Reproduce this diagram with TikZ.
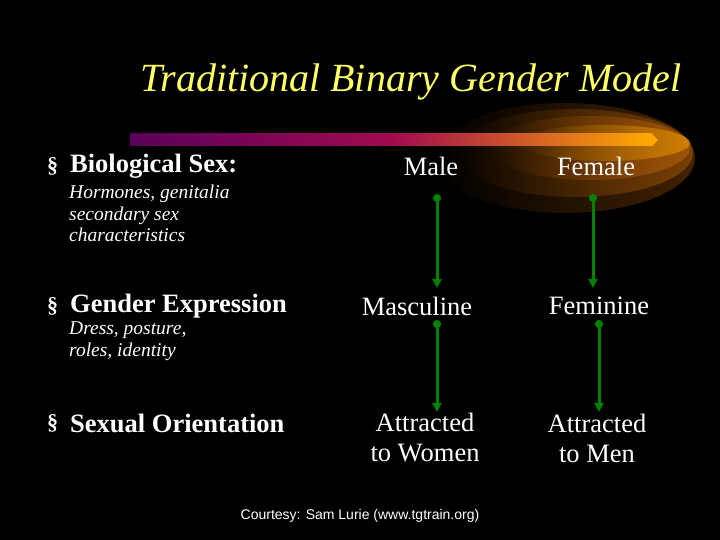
\documentclass[tikz,border=0pt]{standalone}
\usepackage{fontspec}
\setmainfont{Liberation Serif}
\newfontfamily\arialf{Liberation Sans}
\usetikzlibrary{arrows.meta,fadings}
\definecolor{ttl}{RGB}{255,255,102}
\definecolor{grn}{RGB}{0,130,0}
\definecolor{purp}{RGB}{90,0,90}
\definecolor{magn}{RGB}{160,10,80}
\definecolor{orng}{RGB}{255,170,0}
\definecolor{glow}{RGB}{190,100,10}
\begin{document}
\begin{tikzpicture}[x=1pt,y=-1pt,
  lbl/.style={text=white,font=\fontsize{26.5}{30}\selectfont,align=center,inner sep=0},
  head/.style={text=white,font=\bfseries\fontsize{26.5}{30}\selectfont,anchor=west,inner sep=0},
  sub/.style={text=white,font=\itshape\fontsize{19.5}{21.5}\selectfont,anchor=north west,align=left,inner sep=0},
  bul/.style={text=white,font=\bfseries\fontsize{22}{24}\selectfont,anchor=west,inner sep=0},
  arr/.style={grn,line width=3pt,{Circle[length=8pt]}-{Triangle[length=9pt,width=9pt]},shorten <=-4pt}]
\fill[black] (0,0) rectangle (720,540);
\useasboundingbox (0,0) rectangle (720,540);
% glow
\fill[glow,path fading=west,opacity=0.35] (565,158) ellipse [x radius=130,y radius=55];
\fill[glow,path fading=west,opacity=0.45] (575,153) ellipse [x radius=118,y radius=44];
\fill[glow,path fading=west,opacity=0.55] (590,148) ellipse [x radius=100,y radius=32];
\fill[orng,path fading=west,opacity=0.5] (605,143) ellipse [x radius=85,y radius=18];
\shade[left color=purp,right color=orng,middle color=magn,shading angle=90] (130,134) rectangle (652,146);
\fill[orng] (652,134) -- (658,140) -- (652,146) -- cycle;
\node[text=ttl,font=\itshape\fontsize{40}{44}\selectfont,inner sep=0] (title) at (411,82) {Traditional Binary Gender Model};
% rows
\node[bul] (b1) at (47,166) {§};
\node[head] (h1) at (70,166) {Biological Sex:};
\node[sub] (s1) at (69,185) {Hormones, genitalia\\secondary sex\\characteristics};
\node[bul] (b2) at (47,306) {§};
\node[head] (h2) at (70,306) {Gender Expression};
\node[sub] (s2) at (69,322) {Dress, posture,\\roles, identity};
\node[bul] (b3) at (47,423) {§};
\node[head] (h3) at (70,423) {Sexual Orientation};
\node[lbl] (male) at (431,166) {Male};
\node[lbl] (female) at (596,166) {Female};
\node[lbl] (masc) at (417,306) {Masculine};
\node[lbl] (fem) at (599,306) {Feminine};
\node[lbl] (aw) at (425,438) {Attracted\\to Women};
\node[lbl] (am) at (597,438) {Attracted\\to Men};
\coordinate (m1) at (437,198); \coordinate (m2) at (437,288);
\coordinate (f1) at (593,198); \coordinate (f2) at (593,288);
\coordinate (x1) at (437,324); \coordinate (x2) at (437,412);
\coordinate (y1) at (599,324); \coordinate (y2) at (599,412);
\draw[arr] (m1) -- (m2);
\draw[arr] (f1) -- (f2);
\draw[arr] (x1) -- (x2);
\draw[arr] (y1) -- (y2);
\node[text=white,font=\arialf\fontsize{14}{16}\selectfont,inner sep=0] (c) at (360,516) {Courtesy: Sam Lurie (www.tgtrain.org)};
\end{tikzpicture}
\end{document}
